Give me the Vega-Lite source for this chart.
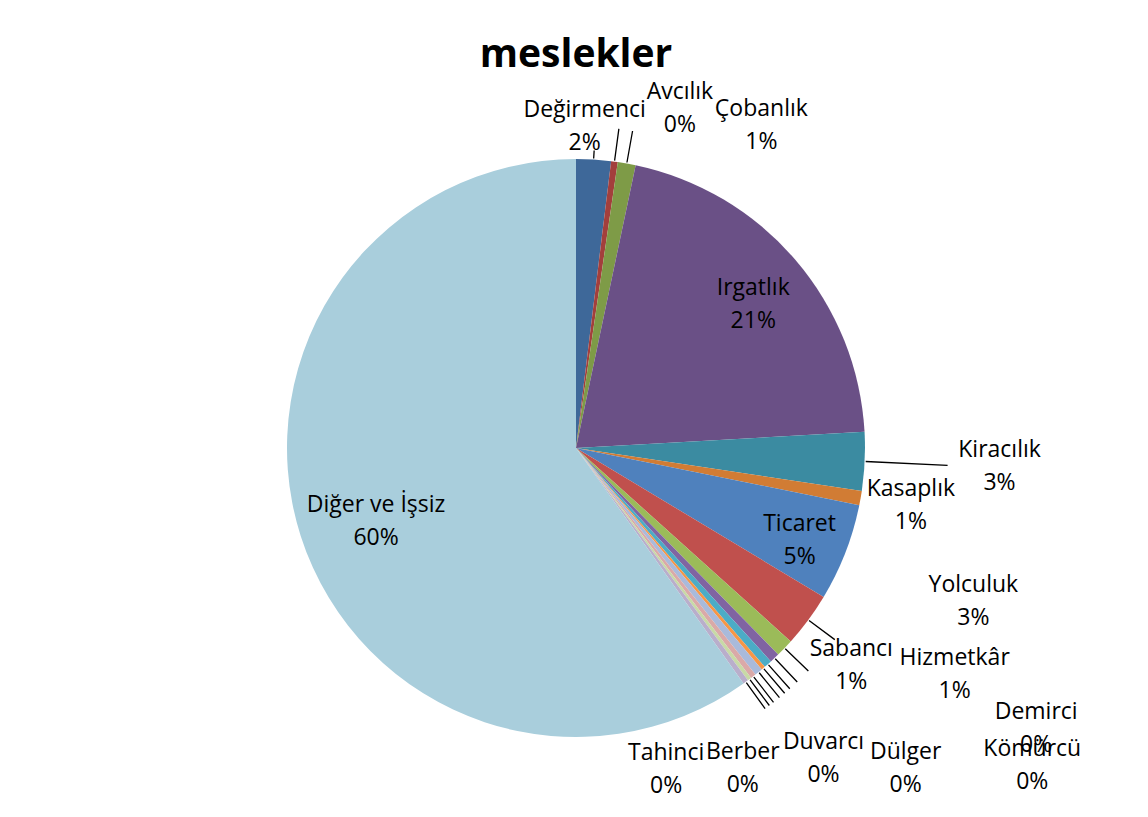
{
  "$schema": "https://vega.github.io/schema/vega-lite/v6.json",
  "width": 1148,
  "height": 817,
  "autosize": {"type": "fit", "contains": "padding"},
  "padding": {"left": 6, "right": 2, "top": 36, "bottom": 0},
  "title": {"text": "meslekler", "font": "Open Sans", "fontSize": 39, "fontWeight": "bold", "color": "#000000", "anchor": "middle"},
  "config": {
    "view": {"stroke": null},
    "text": {"font": "Open Sans", "fontSize": 23, "color": "#000000", "lineBreak": "\n", "lineHeight": 33, "align": "center", "baseline": "middle"}
  },
  "data": {"values": [
    {"order": 1, "name": "Değirmenci", "value": 1.94, "label": "Değirmenci\n2%"},
    {"order": 2, "name": "Avcılık", "value": 0.37, "label": "Avcılık\n0%"},
    {"order": 3, "name": "Çobanlık", "value": 1.0, "label": "Çobanlık\n1%"},
    {"order": 4, "name": "Irgatlık", "value": 20.8, "label": "Irgatlık\n21%"},
    {"order": 5, "name": "Kiracılık", "value": 3.26, "label": "Kiracılık\n3%"},
    {"order": 6, "name": "Kasaplık", "value": 0.8, "label": "Kasaplık\n1%"},
    {"order": 7, "name": "Ticaret", "value": 5.45, "label": "Ticaret\n5%"},
    {"order": 8, "name": "Yolculuk", "value": 3.05, "label": "Yolculuk\n3%"},
    {"order": 9, "name": "Sabancı", "value": 1.0, "label": "Sabancı\n1%"},
    {"order": 10, "name": "Hizmetkâr", "value": 0.55, "label": "Hizmetkâr\n1%"},
    {"order": 11, "name": "Demirci", "value": 0.45, "label": "Demirci\n0%"},
    {"order": 12, "name": "Kömürcü", "value": 0.22, "label": "Kömürcü\n0%"},
    {"order": 13, "name": "Dülger", "value": 0.45, "label": "Dülger\n0%"},
    {"order": 14, "name": "Duvarcı", "value": 0.3, "label": "Duvarcı\n0%"},
    {"order": 15, "name": "Berber", "value": 0.22, "label": "Berber\n0%"},
    {"order": 16, "name": "Tahinci", "value": 0.3, "label": "Tahinci\n0%"},
    {"order": 17, "name": "Diğer ve İşsiz", "value": 59.84, "label": "Diğer ve İşsiz\n60%"}
  ]},
  "layer": [
    {
      "mark": {"type": "arc", "outerRadius": 289},
      "encoding": {
        "theta": {"field": "value", "type": "quantitative", "stack": true},
        "order": {"field": "order", "type": "quantitative"},
        "color": {"field": "name", "type": "nominal", "legend": null, "scale": {
          "domain": ["Değirmenci", "Avcılık", "Çobanlık", "Irgatlık", "Kiracılık", "Kasaplık", "Ticaret", "Yolculuk", "Sabancı", "Hizmetkâr", "Demirci", "Kömürcü", "Dülger", "Duvarcı", "Berber", "Tahinci", "Diğer ve İşsiz"],
          "range": ["#3e6899", "#a33f3c", "#7e9b47", "#6a5086", "#3b8ba1", "#d17c34", "#4f81bd", "#c0504d", "#9bbb59", "#8064a2", "#4bacc6", "#f79646", "#a9badb", "#daa9a8", "#c8daa6", "#b9aecb", "#a9cedc"]}}
      }
    },
    {
      "mark": {"type": "arc", "innerRadius": 290, "outerRadius": 322, "padAngle": 0.4, "filled": false, "stroke": "#000000", "strokeWidth": 1.3, "clip": true},
      "encoding": {
        "theta": {"field": "value", "type": "quantitative", "stack": true},
        "order": {"field": "order", "type": "quantitative"},
        "strokeOpacity": {"condition": {"test": "indexof(['Avcılık','Çobanlık','Yolculuk','Sabancı','Hizmetkâr','Demirci','Kömürcü','Dülger','Duvarcı','Berber','Tahinci'], datum.name) >= 0", "value": 1}, "value": 0}
      }
    },
    {
      "mark": {"type": "arc", "innerRadius": 290, "outerRadius": 372, "padAngle": 0.4, "filled": false, "stroke": "#000000", "strokeWidth": 1.3, "clip": true},
      "encoding": {
        "theta": {"field": "value", "type": "quantitative", "stack": true},
        "order": {"field": "order", "type": "quantitative"},
        "strokeOpacity": {"condition": {"test": "datum.name === 'Kiracılık'", "value": 1}, "value": 0}
      }
    },
    {
      "mark": {"type": "arc", "innerRadius": 290, "outerRadius": 298, "padAngle": 0.4, "filled": false, "stroke": "#000000", "strokeWidth": 1.3, "clip": true},
      "encoding": {
        "theta": {"field": "value", "type": "quantitative", "stack": true},
        "order": {"field": "order", "type": "quantitative"},
        "strokeOpacity": {"condition": {"test": "datum.name === 'Değirmenci'", "value": 1}, "value": 0}
      }
    },
    {"mark": {"type": "text", "radius": 323, "dx": -11, "dy": -16, "clip": true}, "encoding": {"theta": {"field": "value", "type": "quantitative", "stack": true}, "order": {"field": "order", "type": "quantitative"}, "text": {"condition": {"test": "datum.name === 'Değirmenci'", "field": "label"}, "value": ""}}},
    {"mark": {"type": "text", "radius": 435, "dx": 46, "dy": 75, "clip": true}, "encoding": {"theta": {"field": "value", "type": "quantitative", "stack": true}, "order": {"field": "order", "type": "quantitative"}, "text": {"condition": {"test": "datum.name === 'Avcılık'", "field": "label"}, "value": ""}}},
    {"mark": {"type": "text", "radius": 372, "dx": 120, "dy": 27, "clip": true}, "encoding": {"theta": {"field": "value", "type": "quantitative", "stack": true}, "order": {"field": "order", "type": "quantitative"}, "text": {"condition": {"test": "datum.name === 'Çobanlık'", "field": "label"}, "value": ""}}},
    {"mark": {"type": "text", "radius": 227, "dx": 5, "dy": -12, "clip": true}, "encoding": {"theta": {"field": "value", "type": "quantitative", "stack": true}, "order": {"field": "order", "type": "quantitative"}, "text": {"condition": {"test": "datum.name === 'Irgatlık'", "field": "label"}, "value": ""}}},
    {"mark": {"type": "text", "radius": 424, "dx": 0, "dy": -18, "clip": true}, "encoding": {"theta": {"field": "value", "type": "quantitative", "stack": true}, "order": {"field": "order", "type": "quantitative"}, "text": {"condition": {"test": "datum.name === 'Kiracılık'", "field": "label"}, "value": ""}}},
    {"mark": {"type": "text", "radius": 340, "dx": 0, "dy": -18, "clip": true}, "encoding": {"theta": {"field": "value", "type": "quantitative", "stack": true}, "order": {"field": "order", "type": "quantitative"}, "text": {"condition": {"test": "datum.name === 'Kasaplık'", "field": "label"}, "value": ""}}},
    {"mark": {"type": "text", "radius": 242, "dx": -2, "dy": -12, "clip": true}, "encoding": {"theta": {"field": "value", "type": "quantitative", "stack": true}, "order": {"field": "order", "type": "quantitative"}, "text": {"condition": {"test": "datum.name === 'Ticaret'", "field": "label"}, "value": ""}}},
    {"mark": {"type": "text", "radius": 426, "dx": 55, "dy": -117, "clip": true}, "encoding": {"theta": {"field": "value", "type": "quantitative", "stack": true}, "order": {"field": "order", "type": "quantitative"}, "text": {"condition": {"test": "datum.name === 'Yolculuk'", "field": "label"}, "value": ""}}},
    {"mark": {"type": "text", "radius": 351, "dx": 22, "dy": -42, "clip": true}, "encoding": {"theta": {"field": "value", "type": "quantitative", "stack": true}, "order": {"field": "order", "type": "quantitative"}, "text": {"condition": {"test": "datum.name === 'Sabancı'", "field": "label"}, "value": ""}}},
    {"mark": {"type": "text", "radius": 442, "dx": 75, "dy": -111, "clip": true}, "encoding": {"theta": {"field": "value", "type": "quantitative", "stack": true}, "order": {"field": "order", "type": "quantitative"}, "text": {"condition": {"test": "datum.name === 'Hizmetkâr'", "field": "label"}, "value": ""}}},
    {"mark": {"type": "text", "radius": 538, "dx": 103, "dy": -138, "clip": true}, "encoding": {"theta": {"field": "value", "type": "quantitative", "stack": true}, "order": {"field": "order", "type": "quantitative"}, "text": {"condition": {"test": "datum.name === 'Demirci'", "field": "label"}, "value": ""}}},
    {"mark": {"type": "text", "radius": 556, "dx": 96, "dy": -122, "clip": true}, "encoding": {"theta": {"field": "value", "type": "quantitative", "stack": true}, "order": {"field": "order", "type": "quantitative"}, "text": {"condition": {"test": "datum.name === 'Kömürcü'", "field": "label"}, "value": ""}}},
    {"mark": {"type": "text", "radius": 460, "dx": 39, "dy": -53, "clip": true}, "encoding": {"theta": {"field": "value", "type": "quantitative", "stack": true}, "order": {"field": "order", "type": "quantitative"}, "text": {"condition": {"test": "datum.name === 'Dülger'", "field": "label"}, "value": ""}}},
    {"mark": {"type": "text", "radius": 397, "dx": 4, "dy": -20, "clip": true}, "encoding": {"theta": {"field": "value", "type": "quantitative", "stack": true}, "order": {"field": "order", "type": "quantitative"}, "text": {"condition": {"test": "datum.name === 'Duvarcı'", "field": "label"}, "value": ""}}},
    {"mark": {"type": "text", "radius": 361, "dx": -50, "dy": 15, "clip": true}, "encoding": {"theta": {"field": "value", "type": "quantitative", "stack": true}, "order": {"field": "order", "type": "quantitative"}, "text": {"condition": {"test": "datum.name === 'Berber'", "field": "label"}, "value": ""}}},
    {"mark": {"type": "text", "radius": 334, "dx": -106, "dy": 35, "clip": true}, "encoding": {"theta": {"field": "value", "type": "quantitative", "stack": true}, "order": {"field": "order", "type": "quantitative"}, "text": {"condition": {"test": "datum.name === 'Tahinci'", "field": "label"}, "value": ""}}},
    {"mark": {"type": "text", "radius": 213, "dx": 3, "dy": -8, "clip": true}, "encoding": {"theta": {"field": "value", "type": "quantitative", "stack": true}, "order": {"field": "order", "type": "quantitative"}, "text": {"condition": {"test": "datum.name === 'Diğer ve İşsiz'", "field": "label"}, "value": ""}}}
  ]
}
